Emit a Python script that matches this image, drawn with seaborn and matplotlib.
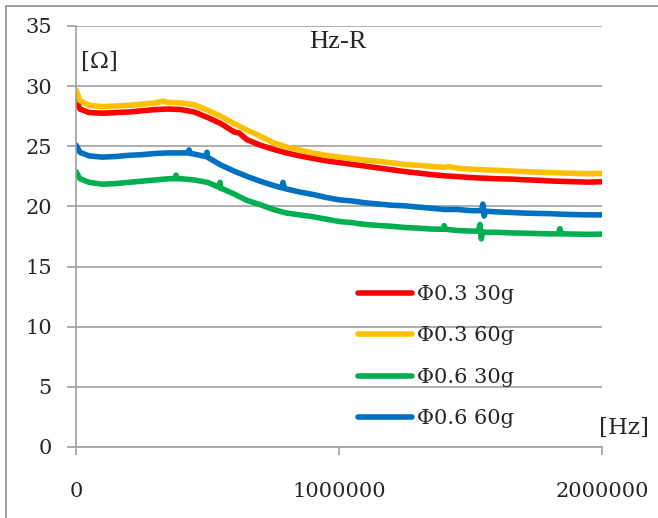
"""Hz-R chart: resistance vs frequency for four wire / weight combinations."""

import matplotlib
matplotlib.use("Agg")
import matplotlib.pyplot as plt
from matplotlib.patches import Rectangle
import seaborn as sns
import pandas as pd


# frequency grid (Hz) shared by the base readings
freq = [0, 15000] + [50000 * i for i in range(1, 41)]

# resistance readings [Ohm], one per grid point
r_03_30 = [28.9, 28.1, 27.8, 27.75, 27.8, 27.85, 27.95, 28.05, 28.1, 28.05,
           27.85, 27.4, 26.9, 26.2, 25.55, 25.1, 24.75, 24.45, 24.2, 24.0,
           23.8, 23.65, 23.5, 23.35, 23.2, 23.05, 22.9, 22.78, 22.65, 22.55,
           22.48, 22.4, 22.35, 22.3, 22.28, 22.22, 22.18, 22.12, 22.08, 22.05,
           22.02, 22.05]
r_03_60 = [29.7, 28.8, 28.4, 28.3, 28.35, 28.4, 28.5, 28.6, 28.65, 28.6,
           28.45, 28.0, 27.5, 26.9, 26.35, 25.85, 25.3, 24.95, 24.7, 24.45,
           24.25, 24.1, 23.98, 23.85, 23.75, 23.62, 23.5, 23.42, 23.33, 23.25,
           23.18, 23.1, 23.05, 23.0, 22.95, 22.9, 22.85, 22.82, 22.78, 22.75,
           22.72, 22.75]
r_06_30 = [22.9, 22.3, 22.0, 21.85, 21.9, 22.0, 22.1, 22.2, 22.3, 22.3,
           22.2, 22.0, 21.5, 21.05, 20.5, 20.15, 19.75, 19.45, 19.3, 19.15,
           18.95, 18.75, 18.65, 18.5, 18.42, 18.35, 18.25, 18.2, 18.12, 18.1,
           18.0, 17.95, 17.85, 17.85, 17.8, 17.78, 17.75, 17.72, 17.72, 17.7,
           17.68, 17.7]
r_06_60 = [25.1, 24.5, 24.2, 24.1, 24.15, 24.25, 24.3, 24.4, 24.45, 24.45,
           24.35, 24.1, 23.45, 22.95, 22.5, 22.1, 21.75, 21.45, 21.2, 21.0,
           20.75, 20.55, 20.45, 20.3, 20.2, 20.1, 20.05, 19.95, 19.85, 19.75,
           19.75, 19.65, 19.6, 19.55, 19.5, 19.45, 19.42, 19.4, 19.35, 19.32,
           19.3, 19.3]

# short spikes in the measurement (frequency, value)
spike_03_30 = [(620000, 26.1)]
spike_03_60 = [(330000, 28.75), (1420000, 23.3)]
spike_06_30 = [(375000, 22.3), (380000, 22.6), (385000, 22.3),
               (543000, 21.6), (548000, 22.0), (553000, 21.5),
               (1395000, 18.1), (1400000, 18.4), (1405000, 18.1),
               (1530000, 17.95), (1536000, 18.5), (1541000, 17.3), (1546000, 17.9),
               (1835000, 17.72), (1840000, 18.15), (1845000, 17.72)]
spike_06_60 = [(425000, 24.45), (430000, 24.7), (435000, 24.4),
               (493000, 24.15), (498000, 24.5), (503000, 24.05),
               (782000, 21.55), (787000, 22.0), (792000, 21.5),
               (1542000, 19.65), (1547000, 20.2), (1552000, 19.2), (1557000, 19.6)]

labels = ["Φ0.3 30g", "Φ0.3 60g", "Φ0.6 30g", "Φ0.6 60g"]
colors = ["#FF0000", "#FFC000", "#00B050", "#0070C0"]


def build_frame() -> pd.DataFrame:
    rows = []
    series = [(r_03_30, spike_03_30), (r_03_60, spike_03_60),
              (r_06_30, spike_06_30), (r_06_60, spike_06_60)]
    for label, (values, spikes) in zip(labels, series):
        part = pd.DataFrame({"freq": freq, "ohm": values})
        extra = pd.DataFrame(spikes, columns=["freq", "ohm"])
        part = pd.concat([part, extra]).sort_values("freq")
        part["series"] = label
        rows.append(part)
    return pd.concat(rows, ignore_index=True)


def main() -> None:
    sns.set_theme(style="white")
    plt.rcParams["font.family"] = ["DejaVu Serif"]
    font_size = 15

    df = build_frame()

    fig = plt.figure(figsize=(6.58, 5.18), dpi=100)
    ax = fig.add_axes([76 / 658, 71 / 518, 526 / 658, 421 / 518])

    sns.lineplot(data=df, x="freq", y="ohm", hue="series", hue_order=labels,
                 palette=colors, linewidth=4.0, estimator=None, sort=False, ax=ax)

    ax.set_xlim(0, 2000000)
    ax.set_ylim(0, 35)
    ax.set_xticks([0, 1000000, 2000000])
    ax.set_xticklabels(["0", "1000000", "2000000"])
    ax.set_yticks(range(0, 36, 5))
    ax.set_xlabel("")
    ax.set_ylabel("")

    grid_color = "#A0A0A0"
    ax.yaxis.grid(True, color=grid_color, linewidth=1.2)
    ax.xaxis.grid(False)
    ax.set_axisbelow(True)
    for side in ["top", "right"]:
        ax.spines[side].set_visible(False)
    for side in ["left", "bottom"]:
        ax.spines[side].set_color(grid_color)
        ax.spines[side].set_linewidth(1.2)
    ax.tick_params(axis="y", direction="out", length=6.5, width=1.2, color=grid_color,
                   pad=11, labelsize=font_size, left=True)
    ax.tick_params(axis="x", direction="out", length=6, width=1.2, color=grid_color,
                   pad=19, labelsize=font_size, bottom=True)

    ax.text(338 / 658, 1 - 42 / 518, "Hz-R", transform=fig.transFigure,
            ha="center", va="center", fontsize=19, family="Liberation Serif")
    ax.text(99 / 658, 1 - 62 / 518, "[Ω]", transform=fig.transFigure,
            ha="center", va="center", fontsize=16.5)
    ax.text(624 / 658, 1 - 428 / 518, "[Hz]", transform=fig.transFigure,
            ha="center", va="center", fontsize=16.5)

    legend = ax.legend(loc="upper left", bbox_to_anchor=(0.536, 0.385), frameon=False,
                       fontsize=font_size, handlelength=2.6, handletextpad=0.25,
                       labelspacing=1.08, borderpad=0, borderaxespad=0)
    for line in legend.get_lines():
        line.set_linewidth(4.0)

    fig.patches.append(Rectangle((6 / 658, -0.1), 1.2, 1.1 - 6 / 518, transform=fig.transFigure,
                                 fill=False, edgecolor="#8C8C8C", linewidth=1.2))

    fig.savefig("out.png", dpi=100)
    plt.close(fig)


if __name__ == "__main__":
    main()
